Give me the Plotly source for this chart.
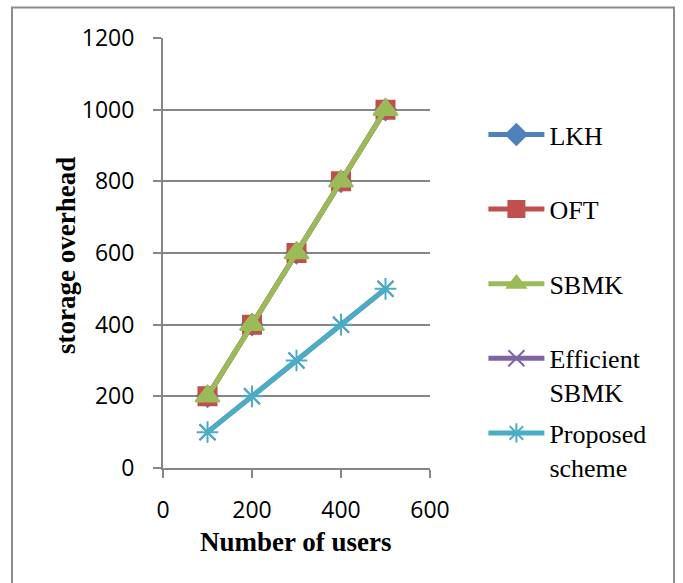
import plotly.graph_objects as go

# Number of users on the x axis
users = [100, 200, 300, 400, 500]

# Storage overhead for each scheme
lkh = [200, 400, 600, 800, 1000]
oft = [200, 400, 600, 800, 1000]
sbmk = [200, 400, 600, 800, 1000]
efficient_sbmk = [100, 200, 300, 400, 500]
proposed = [100, 200, 300, 400, 500]

series = [
    ("LKH", lkh, "#4F81BD", "diamond", 16),
    ("OFT", oft, "#C0504D", "square", 18),
    ("SBMK", sbmk, "#9BBB59", "triangle-up", 21),
    ("Efficient<br>SBMK", efficient_sbmk, "#8064A2", "x-thin-open", 16),
    ("Proposed<br>scheme", proposed, "#4BACC6", "asterisk-open", 18),
]

fig = go.Figure()
for i, (name, vals, color, symbol, size) in enumerate(series):
    # single-line names get a blank second line so every legend row is equally tall
    label = name if "<br>" in name else name + "<br> "
    fig.add_trace(go.Scatter(
        x=users, y=vals, name=label, mode="lines+markers",
        legendgroup=f"g{i}",
        line=dict(color=color, width=5),
        marker=dict(symbol=symbol, size=size, color=color,
                    line=dict(color=color, width=2)),
    ))

grid = "#868686"
fig.update_layout(
    width=683, height=583,
    margin=dict(l=163, r=253, t=38, b=115),
    paper_bgcolor="white", plot_bgcolor="white",
    showlegend=True,
    legend=dict(
        x=1.2, xanchor="left", y=0.83, yanchor="top",
        font=dict(family="Liberation Serif", size=26, color="black"),
        valign="top", itemwidth=56, tracegroupgap=4,
        bgcolor="rgba(0,0,0,0)",
    ),
    xaxis=dict(
        range=[0, 600], tickvals=[0, 200, 400, 600],
        showgrid=False, zeroline=False,
        showline=True, linecolor=grid, linewidth=2,
        ticks="outside", ticklen=8, tickwidth=2, tickcolor=grid,
        ticklabelstandoff=12,
        tickfont=dict(family="Open Sans", size=23, color="black"),
    ),
    yaxis=dict(
        range=[0, 1200], tickvals=[0, 200, 400, 600, 800, 1000, 1200],
        showgrid=True, gridcolor=grid, gridwidth=2, zeroline=False,
        showline=True, linecolor=grid, linewidth=2,
        ticks="outside", ticklen=8, tickwidth=2, tickcolor=grid,
        ticklabelstandoff=14,
        tickfont=dict(family="Open Sans", size=23, color="black"),
    ),
    annotations=[
        dict(text="<b>Number of users</b>", xref="paper", yref="paper",
             x=(296 - 163) / 267, y=(468 - 542) / 430,
             xanchor="center", yanchor="middle", showarrow=False,
             font=dict(family="Liberation Serif", size=27, color="black")),
        dict(text="<b>storage overhead</b>", xref="paper", yref="paper",
             x=(66 - 163) / 267, y=(468 - 256) / 430, textangle=-90,
             xanchor="center", yanchor="middle", showarrow=False,
             font=dict(family="Liberation Serif", size=27, color="black")),
    ],
    shapes=[
        dict(type="rect", xref="paper", yref="paper",
             x0=(12 - 163) / 267, x1=(674 - 163) / 267,
             y0=(468 - 600) / 430, y1=(468 - 7.5) / 430,
             line=dict(color="#8C8C8C", width=2), fillcolor="rgba(0,0,0,0)",
             layer="below"),
    ],
)

fig.write_html("out.html")
